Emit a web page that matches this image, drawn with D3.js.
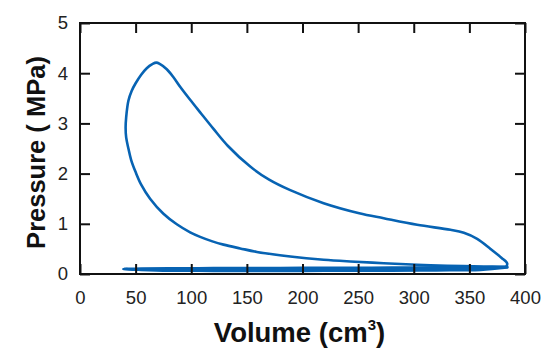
<!DOCTYPE html>
<html>
<head>
<meta charset="utf-8">
<script src="https://cdn.jsdelivr.net/npm/d3@7"></script>
<style>
  html, body { margin: 0; padding: 0; background: #fff; }
  svg { display: block; }
</style>
</head>
<body>
<svg id="chart" width="550" height="359"></svg>
<script>
// ---- Data ----
const xTicks = [0, 50, 100, 150, 200, 250, 300, 350, 400];
const yTicks = [0, 1, 2, 3, 4, 5];

// Compression stroke (BDC -> TDC)
const compressionV = [384, 363, 330, 303, 273, 243, 219, 189, 159, 144, 129, 119, 108, 99, 87, 75, 63, 55, 50, 46, 43.5, 41.5];
const compressionP = [0.14, 0.15, 0.165, 0.185, 0.215, 0.25, 0.285, 0.35, 0.44, 0.51, 0.585, 0.65, 0.74, 0.83, 0.99, 1.2, 1.5, 1.78, 2.03, 2.27, 2.5, 2.72];
// Combustion
const combustionV = [41, 41.5, 43.5, 46.5, 50, 55, 60, 65];
const combustionP = [2.92, 3.12, 3.45, 3.65, 3.8, 3.97, 4.1, 4.18];
// Expansion stroke (peak -> BDC)
const expansionV = [68.6, 72, 78, 84, 90, 99, 108, 120, 133, 153, 170, 189, 219, 251, 273, 303, 333, 345, 357, 369, 379, 384, 383];
const expansionP = [4.21, 4.18, 4.08, 3.92, 3.73, 3.47, 3.22, 2.89, 2.55, 2.14, 1.88, 1.67, 1.41, 1.21, 1.11, 0.98, 0.88, 0.82, 0.70, 0.50, 0.32, 0.21, 0.14];
// Exhaust stroke
const exhaustV = [383, 360, 320, 280, 240, 200, 160, 120, 80, 55, 39];
const exhaustP = [0.14, 0.13, 0.13, 0.125, 0.12, 0.12, 0.115, 0.115, 0.11, 0.105, 0.10];
// Intake stroke
const intakeV = [39, 55, 80, 120, 160, 200, 240, 280, 320, 360, 384];
const intakeP = [0.10, 0.085, 0.07, 0.065, 0.065, 0.065, 0.07, 0.07, 0.075, 0.085, 0.13];

// ---- Layout ----
const svg = d3.select("#chart");
const mLeft = 80, mRight = 525, mTop = 23, mBottom = 274;

const x = d3.scaleLinear().domain([0, 400]).range([mLeft, mRight]);
const y = d3.scaleLinear().domain([0, 5]).range([mBottom, mTop]);

const toPts = (V, P) => V.map((v, i) => [v, P[i]]);

const mainLoop = [].concat(
  toPts(compressionV, compressionP),
  toPts(combustionV, combustionP),
  toPts(expansionV, expansionP)
);
const gasExchange = [].concat(
  toPts(exhaustV, exhaustP),
  toPts(intakeV, intakeP).slice(1)
);

const line = d3.line()
  .x(d => x(d[0]))
  .y(d => y(d[1]))
  .curve(d3.curveCatmullRom.alpha(0.5));

const blue = "#0763b3";
svg.append("path").datum(gasExchange)
  .attr("d", line).attr("fill", "none")
  .attr("stroke", blue).attr("stroke-width", 2.8)
  .attr("stroke-linejoin", "round").attr("stroke-linecap", "round");
svg.append("path").datum(mainLoop)
  .attr("d", line).attr("fill", "none")
  .attr("stroke", blue).attr("stroke-width", 2.6)
  .attr("stroke-linejoin", "round").attr("stroke-linecap", "round");

// ---- Axes (ticks inside, mirrored) ----
const tickLen = 10;
const axStyle = g => {
  g.select(".domain").remove();
  g.selectAll(".tick line").attr("stroke", "#111").attr("stroke-width", 2);
  g.selectAll(".tick text").attr("fill", "#222")
    .style("font-family", "'Liberation Sans', Arial, sans-serif")
    .style("font-size", "18.5px");
};
const fmt = d3.format("d");

svg.append("g").attr("transform", `translate(0,${mBottom})`)
  .call(d3.axisBottom(x).tickValues(xTicks).tickFormat(fmt).tickSizeInner(-tickLen).tickSizeOuter(0).tickPadding(17))
  .call(axStyle);
svg.append("g").attr("transform", `translate(0,${mTop})`)
  .call(d3.axisTop(x).tickValues(xTicks).tickSizeInner(-tickLen).tickSizeOuter(0).tickFormat(""))
  .call(axStyle);
svg.append("g").attr("transform", `translate(${mLeft},0)`)
  .call(d3.axisLeft(y).tickValues(yTicks).tickFormat(fmt).tickSizeInner(-tickLen).tickSizeOuter(0).tickPadding(12))
  .call(axStyle);
svg.append("g").attr("transform", `translate(${mRight},0)`)
  .call(d3.axisRight(y).tickValues(yTicks).tickSizeInner(-tickLen).tickSizeOuter(0).tickFormat(""))
  .call(axStyle);

// Frame
svg.append("rect")
  .attr("x", mLeft).attr("y", mTop)
  .attr("width", mRight - mLeft).attr("height", mBottom - mTop)
  .attr("fill", "none").attr("stroke", "#111").attr("stroke-width", 2);

// ---- Axis titles ----
const xt = svg.append("text")
  .attr("x", (mLeft + mRight) / 2 - 3).attr("y", 342)
  .attr("text-anchor", "middle")
  .style("font-family", "'Liberation Sans', Arial, sans-serif")
  .style("font-weight", "bold").style("font-size", "27.5px").attr("fill", "#111");
xt.append("tspan").text("Volume (cm");
xt.append("tspan").text("3").attr("dy", -12).style("font-size", "15px");
xt.append("tspan").text(")").attr("dy", 12);

svg.append("text")
  .attr("transform", `translate(45,${(mTop + mBottom) / 2 + 4}) rotate(-90)`)
  .attr("text-anchor", "middle")
  .style("font-family", "'Liberation Sans', Arial, sans-serif")
  .style("font-weight", "bold").style("font-size", "25.5px").attr("fill", "#111")
  .text("Pressure ( MPa)");
</script>
</body>
</html>
